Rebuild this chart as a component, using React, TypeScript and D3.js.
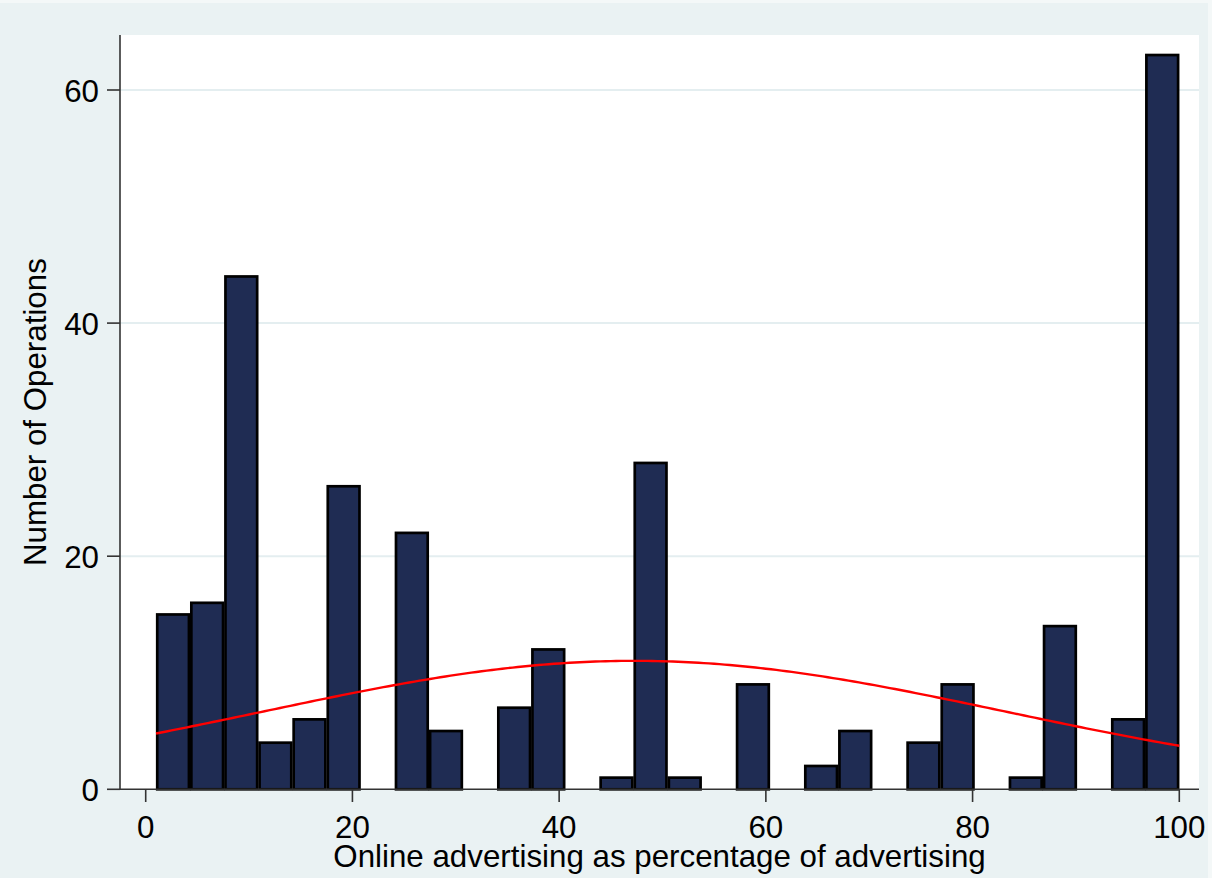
import React from "react";
import * as d3 from "d3";

// Histogram of online advertising share (30 bins from 1 to 100) with normal overlay
const BIN_START = 1;
const BIN_END = 100;
const binCounts = [
  15, 16, 44, 4, 6, 26, 0, 22, 5, 0,
  7, 12, 0, 1, 28, 1, 0, 9, 0, 2,
  5, 0, 4, 9, 0, 1, 14, 0, 6, 63,
];
const xTicks = [0, 20, 40, 60, 80, 100];
const yTicks = [0, 20, 40, 60];
const yGrid = [20, 40, 60];
const xTitle = "Online advertising as percentage of advertising";
const yTitle = "Number of Operations";

const W = 1212;
const H = 878;
const plot = { left: 120, right: 1199, top: 35, bottom: 789.3 };

const BG = "#EAF2F3";
const BAR_FILL = "#1F2C53";
const FONT = "'Liberation Sans', Arial, sans-serif";
const FS = 31.3;

export default function App() {
  const nBins = binCounts.length;
  const binWidth = (BIN_END - BIN_START) / nBins;
  const bins = binCounts.map((count, i) => ({
    x0: BIN_START + i * binWidth,
    x1: BIN_START + (i + 1) * binWidth,
    count,
  }));

  const x = d3.scaleLinear().domain([0, 100]).range([145.7, 1179.3]);
  const y = d3.scaleLinear().domain([0, 60]).range([plot.bottom, 90]);

  // Normal density fitted to the binned counts, scaled to frequency units
  const total = d3.sum(bins, (b) => b.count);
  const mean = d3.sum(bins, (b) => b.count * (b.x0 + b.x1) / 2) / total;
  const variance =
    d3.sum(bins, (b) => b.count * ((b.x0 + b.x1) / 2 - mean) ** 2) / total;
  const sd = Math.sqrt(variance);
  const scaleFactor = total * binWidth;
  const density = (v: number) =>
    (scaleFactor / (sd * Math.sqrt(2 * Math.PI))) *
    Math.exp(-0.5 * ((v - mean) / sd) ** 2);
  const curveXs = d3.range(BIN_START, BIN_END + 0.001, 0.5);
  const line = d3
    .line<number>()
    .x((v) => x(v))
    .y((v) => y(density(v)))
    .curve(d3.curveLinear);

  const inset = 1.2;

  return (
    <svg
      width={W}
      height={H}
      style={{ position: "absolute", left: 0, top: 0 }}
      fontFamily={FONT}
    >
      <rect x={0} y={0} width={W} height={H} fill={BG} />
      <rect x={0} y={0} width={W} height={3} fill="#F4F8F8" />
      <rect x={W - 4} y={0} width={4} height={H} fill="#F4F8F8" />
      <rect
        x={plot.left}
        y={plot.top}
        width={plot.right - plot.left}
        height={plot.bottom - plot.top}
        fill="#FFFFFF"
      />
      {yGrid.map((t) => (
        <line
          key={"g" + t}
          x1={plot.left}
          x2={plot.right}
          y1={y(t)}
          y2={y(t)}
          stroke="#E4EEF0"
          strokeWidth={2}
        />
      ))}
      {bins
        .filter((b) => b.count > 0)
        .map((b, i) => (
          <rect
            key={"b" + i}
            x={x(b.x0) + inset}
            y={y(b.count)}
            width={x(b.x1) - x(b.x0) - 2 * inset}
            height={y(0) - y(b.count)}
            fill={BAR_FILL}
            stroke="#000000"
            strokeWidth={2.7}
          />
        ))}
      <path
        d={line(curveXs) || ""}
        fill="none"
        stroke="#FF0000"
        strokeWidth={2.4}
      />
      {/* axes */}
      <line
        x1={plot.left}
        x2={plot.left}
        y1={plot.top}
        y2={plot.bottom}
        stroke="#333"
        strokeWidth={1.6}
      />
      <line
        x1={plot.left}
        x2={plot.right}
        y1={plot.bottom}
        y2={plot.bottom}
        stroke="#333"
        strokeWidth={1.6}
      />
      {yTicks.map((t) => (
        <g key={"y" + t}>
          <line
            x1={107}
            x2={plot.left}
            y1={y(t)}
            y2={y(t)}
            stroke="#333"
            strokeWidth={1.6}
          />
          <text
            x={99}
            y={y(t) + 11.5}
            textAnchor="end"
            fontSize={FS}
            fill="#000"
          >
            {t}
          </text>
        </g>
      ))}
      {xTicks.map((t) => (
        <g key={"x" + t}>
          <line
            x1={x(t)}
            x2={x(t)}
            y1={plot.bottom}
            y2={802}
            stroke="#333"
            strokeWidth={1.6}
          />
          <text
            x={x(t)}
            y={837.5}
            textAnchor="middle"
            fontSize={FS}
            fill="#000"
          >
            {t}
          </text>
        </g>
      ))}
      <text
        x={(plot.left + plot.right) / 2}
        y={867}
        textAnchor="middle"
        fontSize={FS}
        fill="#000"
      >
        {xTitle}
      </text>
      <text
        transform={`translate(46, ${(plot.top + plot.bottom) / 2}) rotate(-90)`}
        textAnchor="middle"
        fontSize={FS}
        fill="#000"
      >
        {yTitle}
      </text>
    </svg>
  );
}
